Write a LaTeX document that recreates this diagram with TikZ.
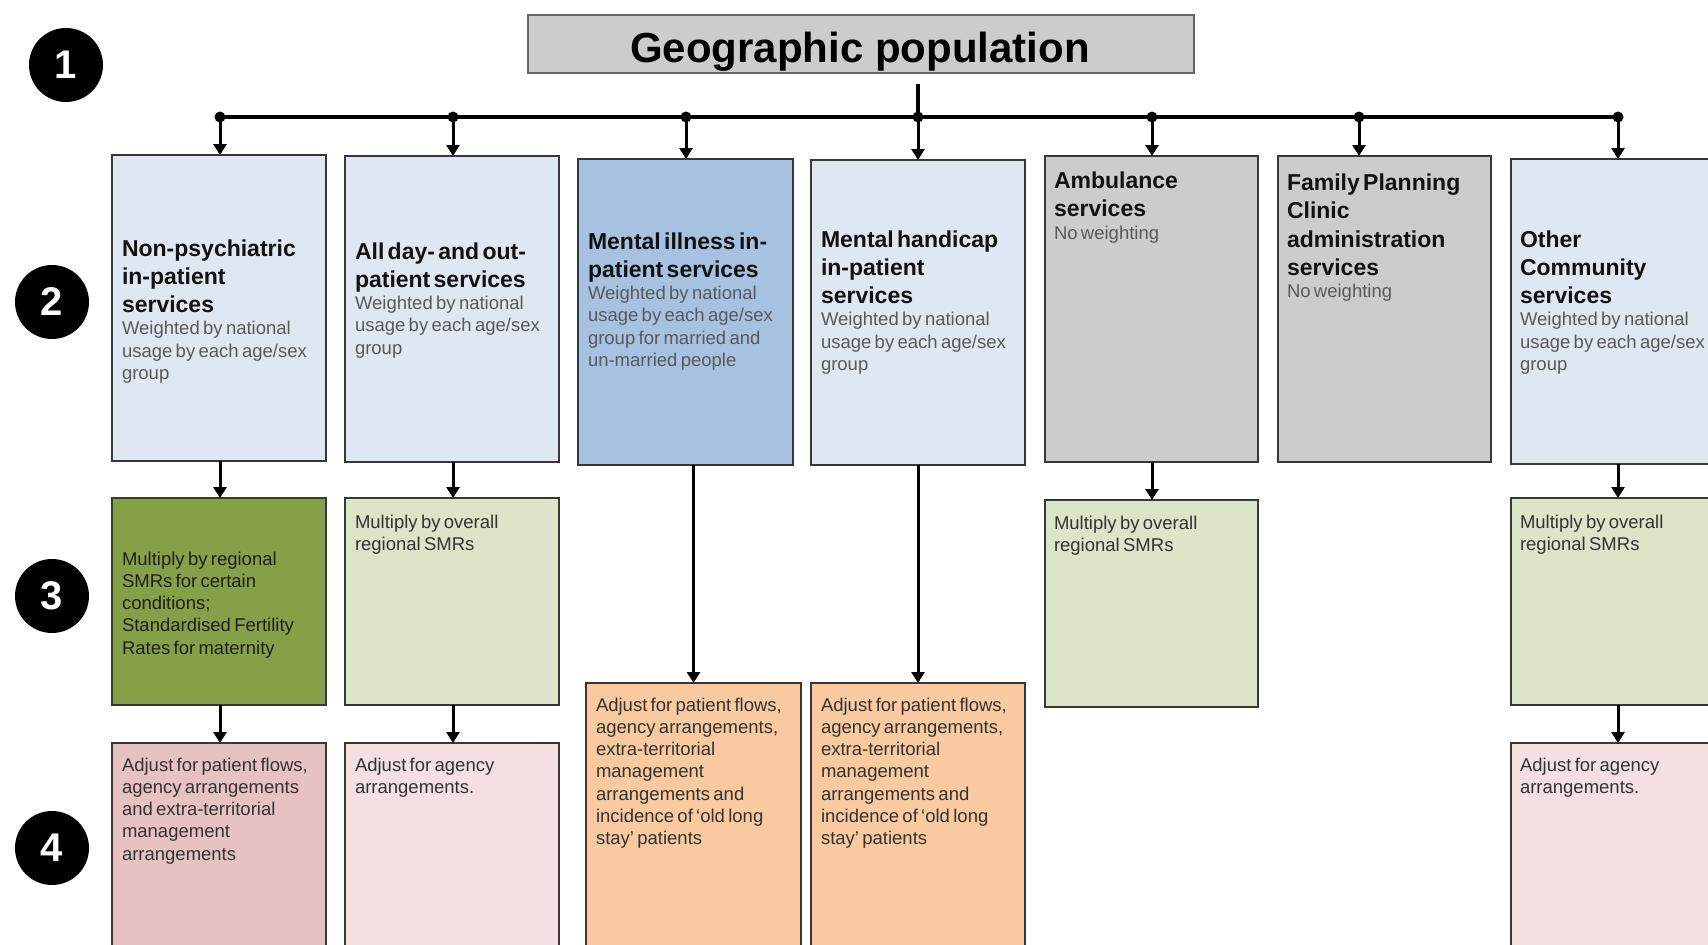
\documentclass[tikz,border=0pt]{standalone}
\usepackage{fontspec}
\setmainfont{Liberation Sans}
\usetikzlibrary{arrows.meta}
\definecolor{bordc}{HTML}{383838}
\definecolor{titlefill}{HTML}{CCCCCC}
\definecolor{titlebord}{HTML}{666666}
\definecolor{lblue}{HTML}{DFE7F2}
\definecolor{mblue}{HTML}{A7C1E1}
\definecolor{gbox}{HTML}{CCCCCC}
\definecolor{dgreen}{HTML}{86A048}
\definecolor{lgreen}{HTML}{DCE5C7}
\definecolor{dpink}{HTML}{E7C2C3}
\definecolor{lpink}{HTML}{F4E0E0}
\definecolor{orng}{HTML}{F9C99F}
\definecolor{subgray}{HTML}{595959}
\definecolor{bodytxt}{HTML}{333333}
\newcommand{\hdf}{\fontsize{23}{28.3}\selectfont\bfseries\rule{0pt}{20pt}}
\newcommand{\smf}{\fontsize{18.5}{22.3}\selectfont\mdseries\color{subgray}}
\newcommand{\bdf}{\fontsize{18.5}{22.3}\selectfont\rule{0pt}{16pt}}
\begin{document}
\begin{tikzpicture}[x=1pt,y=-1pt,
  box/.style={draw=bordc, line width=1.8pt, anchor=north west, minimum width=214pt,
    inner sep=0pt, outer sep=0pt},
  txt/.style={anchor=north west, inner sep=0pt, outer sep=0pt, text width=225pt, align=left, text=black!93},
  btxt/.style={txt, text=bodytxt},
  arr/.style={line width=3pt, -{Triangle[width=13pt,length=11pt]}},
  busline/.style={line width=3.2pt},
  jdot/.style={circle, fill=black, inner sep=0pt, minimum size=11pt},
  numc/.style={circle, fill=black, minimum size=74pt, inner sep=0pt, text=white,
    font=\fontsize{40}{40}\selectfont\bfseries}
]
\useasboundingbox (0,0) rectangle (1708,945);
\clip (0,0) rectangle (1708,945);

% step numbers
\node[numc] (n1) at (66,65) {1};
\node[numc] (n2) at (52,302) {2};
\node[numc] (n3) at (52,596) {3};
\node[numc] (n4) at (52,848) {4};

% title
\node[draw=titlebord, line width=2pt, fill=titlefill, anchor=north west,
  minimum width=666pt, minimum height=58pt, inner sep=0pt] (title) at (527,14) {};
\node[anchor=base, inner sep=0pt, font=\fontsize{42}{50}\selectfont\bfseries] (titletxt)
  at (860,62) {Geographic population};

% row 2 boxes
\node[box, fill=lblue, minimum height=306pt] (b1) at (112,155) {};
\node[box, fill=lblue, minimum height=306pt] (b2) at (345,156) {};
\node[box, fill=mblue, minimum height=306pt, minimum width=215pt] (b3) at (578,159) {};
\node[box, fill=lblue, minimum height=305pt] (b4) at (811,160) {};
\node[box, fill=gbox, minimum height=306pt, minimum width=213pt] (b5) at (1045,156) {};
\node[box, fill=gbox, minimum height=306pt, minimum width=213pt] (b6) at (1278,156) {};
\node[box, fill=lblue, minimum height=305pt] (b7) at (1511,159) {};

% row 3 boxes
\node[box, fill=dgreen, minimum height=207pt] (c1) at (112,498) {};
\node[box, fill=lgreen, minimum height=207pt] (c2) at (345,498) {};
\node[box, fill=lgreen, minimum height=207pt, minimum width=213pt] (c5) at (1045,500) {};
\node[box, fill=lgreen, minimum height=207pt] (c7) at (1511,498) {};

% row 4 boxes
\node[box, fill=dpink, minimum height=260pt] (d1) at (112,743) {};
\node[box, fill=lpink, minimum height=260pt] (d2) at (345,743) {};
\node[box, fill=orng, minimum height=320pt, minimum width=215pt] (d3) at (586,683) {};
\node[box, fill=orng, minimum height=320pt] (d4) at (811,683) {};
\node[box, fill=lpink, minimum height=260pt] (d7) at (1511,743) {};

% row 2 texts
\node[txt] (t1) at (122,236) {\hdf Non-psychiatric\\in-patient\\services\par
  \smf Weighted by national\\usage by each age/sex\\group\par};
\node[txt] (t2) at (355,239) {\hdf All day- and out-\\patient services\par
  \smf Weighted by national\\usage by each age/sex\\group\par};
\node[txt] (t3) at (588,229) {\hdf Mental illness in-\\patient services\par
  \smf Weighted by national\\usage by each age/sex\\group for married and\\un-married people\par};
\node[txt] (t4) at (821,227) {\hdf Mental handicap\\in-patient\\services\par
  \smf Weighted by national\\usage by each age/sex\\group\par};
\node[txt] (t5) at (1054,168.5) {\hdf Ambulance\\services\par
  \smf No weighting\par};
\node[txt] (t6) at (1287,170.5) {\hdf Family Planning\\Clinic\\administration\\services\par
  \smf No weighting\par};
\node[txt] (t7) at (1520,227) {\hdf Other\\Community\\services\par
  \smf Weighted by national\\usage by each age/sex\\group\par};

% row 3 texts
\node[btxt, text=black!88] (u1) at (122,549) {\bdf Multiply by regional\\SMRs for certain\\conditions;\\Standardised Fertility\\Rates for maternity\par};
\node[btxt] (u2) at (355,512) {\bdf Multiply by overall\\regional SMRs\par};
\node[btxt] (u5) at (1054,513) {\bdf Multiply by overall\\regional SMRs\par};
\node[btxt] (u7) at (1520,512) {\bdf Multiply by overall\\regional SMRs\par};

% row 4 texts
\node[btxt] (v1) at (122,755) {\bdf Adjust for patient flows,\\agency arrangements\\and extra-territorial\\management\\arrangements\par};
\node[btxt] (v2) at (355,755) {\bdf Adjust for agency\\arrangements.\par};
\node[btxt] (v3) at (596,695) {\bdf Adjust for patient flows,\\agency arrangements,\\extra-territorial\\management\\arrangements and\\incidence of ‘old long\\stay’ patients\par};
\node[btxt] (v4) at (821,695) {\bdf Adjust for patient flows,\\agency arrangements,\\extra-territorial\\management\\arrangements and\\incidence of ‘old long\\stay’ patients\par};
\node[btxt] (v7) at (1520,755) {\bdf Adjust for agency\\arrangements.\par};

% bus junctions
\coordinate (t0) at (918,84);
\coordinate (j1) at (220,117);
\coordinate (j2) at (453,117);
\coordinate (j3) at (686,117);
\coordinate (j4) at (918,117);
\coordinate (j5) at (1152,117);
\coordinate (j6) at (1359,117);
\coordinate (j7) at (1618,117);

\draw[busline] (t0) -- (j4);
\draw[busline] (j1) -- (j7);
\foreach \k in {1,...,7} {
  \draw[arr] (j\k) -- (j\k |- b\k.north);
  \node[jdot] at (j\k) {};
}

% row 2 -> row 3
\draw[arr] (j1 |- b1.south) -- (j1 |- c1.north);
\draw[arr] (j2 |- b2.south) -- (j2 |- c2.north);
\draw[arr] (j5 |- b5.south) -- (j5 |- c5.north);
\draw[arr] (j7 |- b7.south) -- (j7 |- c7.north);
% row 3 -> row 4
\draw[arr] (j1 |- c1.south) -- (j1 |- d1.north);
\draw[arr] (j2 |- c2.south) -- (j2 |- d2.north);
\draw[arr] (j7 |- c7.south) -- (j7 |- d7.north);
% row 2 -> row 4
\draw[arr] (d3.north |- b3.south) -- (d3.north);
\draw[arr] (j4 |- b4.south) -- (j4 |- d4.north);
\end{tikzpicture}
\end{document}
